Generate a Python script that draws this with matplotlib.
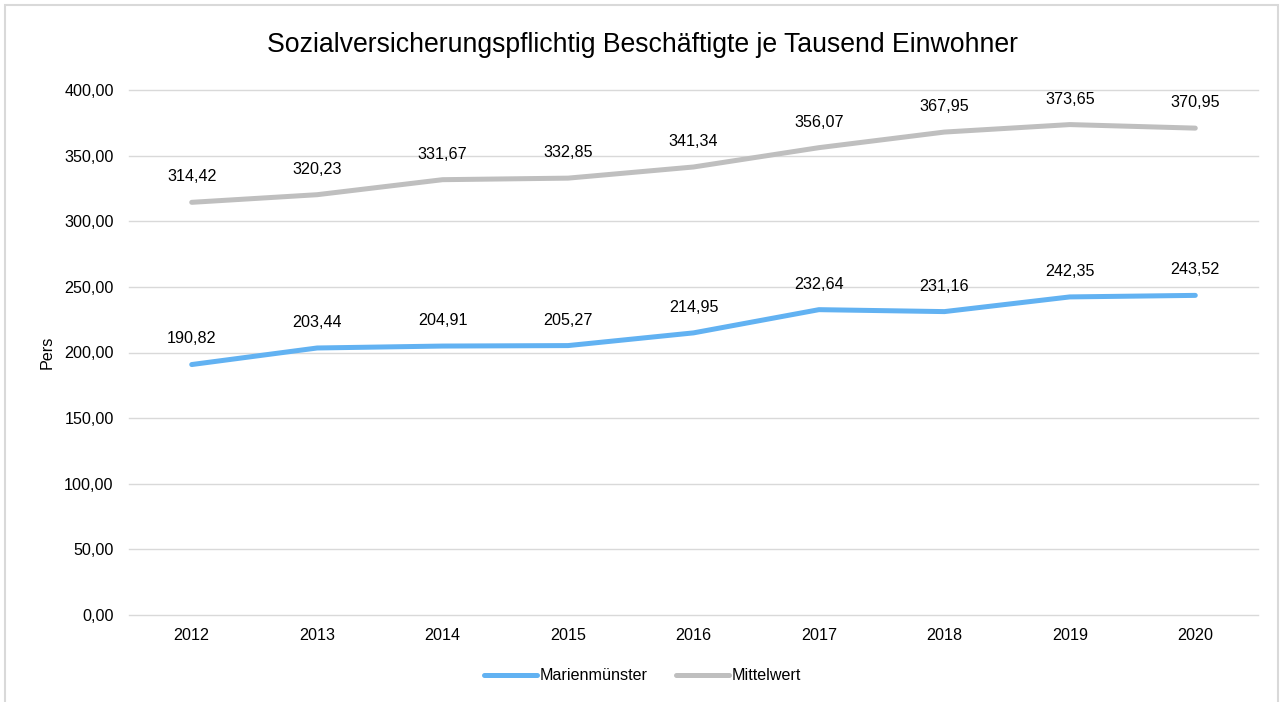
import matplotlib
matplotlib.use("Agg")
from matplotlib import pyplot as plt
from matplotlib.patches import Rectangle

years = ["2012", "2013", "2014", "2015", "2016", "2017", "2018", "2019", "2020"]
marienmuenster = [190.82, 203.44, 204.91, 205.27, 214.95, 232.64, 231.16, 242.35, 243.52]
mittelwert = [314.42, 320.23, 331.67, 332.85, 341.34, 356.07, 367.95, 373.65, 370.95]
yticks = [0, 50, 100, 150, 200, 250, 300, 350, 400]

plt.rcParams['font.family'] = ['Liberation Sans', 'DejaVu Sans']
FS = 11.6

def fmt(v):
    return ("%.2f" % v).replace(".", ",")

fig = plt.figure(figsize=(12.85, 7.02), dpi=100)
ax = fig.add_axes([129 / 1285, 1 - 615 / 702, (1258 - 129) / 1285, (615 - 90) / 702])

# chart frame
fig.patches.append(Rectangle((5 / 1285, -0.05), (1278 - 5) / 1285, 1.05 - 5 / 702,
                             transform=fig.transFigure, fill=False,
                             edgecolor="#D9D9D9", linewidth=1.5))

x = list(range(len(years)))
ax.plot(x, marienmuenster, color="#62B2F2", linewidth=3.6, solid_capstyle="round",
        label="Marienmünster")
ax.plot(x, mittelwert, color="#BFBFBF", linewidth=3.6, solid_capstyle="round",
        label="Mittelwert")

for xi, v in zip(x, marienmuenster):
    ax.annotate(fmt(v), (xi, v), xytext=(0, 13), textcoords="offset points",
                ha="center", va="bottom", fontsize=FS, color="#000000")
for xi, v in zip(x, mittelwert):
    ax.annotate(fmt(v), (xi, v), xytext=(0, 13), textcoords="offset points",
                ha="center", va="bottom", fontsize=FS, color="#000000")

ax.set_xlim(-0.5, len(years) - 0.5)
ax.set_ylim(0, 400)
ax.set_yticks(yticks)
ax.set_yticklabels([fmt(v) for v in yticks], fontsize=FS)
ax.set_xticks(x)
ax.set_xticklabels(years, fontsize=FS)
ax.tick_params(length=0)
ax.tick_params(axis="x", pad=9)
ax.tick_params(axis="y", pad=11)
ax.grid(axis="y", color="#D9D9D9", linewidth=1)
for gl in ax.get_ygridlines():
    gl.set_clip_on(False)
ax.set_axisbelow(True)
for s in ax.spines.values():
    s.set_visible(False)
ax.set_ylabel("Pers", fontsize=FS, labelpad=7)

fig.text(0.5, 1 - 45 / 702, "Sozialversicherungspflichtig Beschäftigte je Tausend Einwohner",
         ha="center", va="center", fontsize=19.2)

fig.legend(loc="center", bbox_to_anchor=(0.5, 1 - 676 / 702), ncol=2, frameon=False,
           fontsize=FS, handlelength=3.3, columnspacing=1.7, handletextpad=0.2)

fig.savefig("out.png", dpi=100)
